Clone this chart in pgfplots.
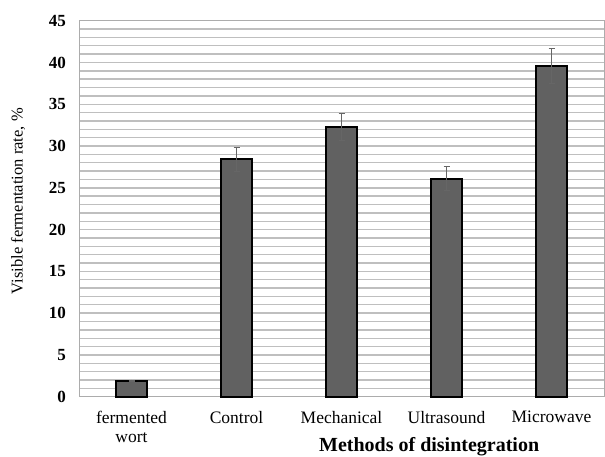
\documentclass[border=0pt]{standalone}
\usepackage{pgfplots}
\pgfplotsset{compat=1.18}
\usepackage{fontspec}
\setmainfont{Liberation Serif}
\begin{document}
\begin{tikzpicture}
\begin{axis}[
  scale only axis, width=525pt, height=376pt,
  xmin=-0.5, xmax=4.5, ymin=0, ymax=45,
  ytick={0,5,...,45}, minor ytick={0,1,...,45},
  ymajorgrids, yminorgrids,
  major grid style={gray!50, line width=1.4pt},
  minor grid style={gray!50, line width=1.4pt},
  axis line style={gray!65, line width=1pt},
  tick style={draw=none},
  xtick={0,1,2,3,4},
  xticklabels={{fermented\\wort},Control,Mechanical,Ultrasound,Microwave},
  xticklabel style={align=center, font=\fontsize{17.5}{19}\selectfont, anchor=north, inner sep=0pt, yshift=-14pt},
  yticklabel style={font=\fontsize{17}{19}\selectfont\bfseries, anchor=east, inner sep=0pt, xshift=-13pt},
  /pgf/number format/assume math mode=true,
  xlabel={Methods of disintegration},
  xlabel style={at={(axis description cs:0.667,0)}, anchor=north, inner sep=0pt, yshift=-41pt, font=\fontsize{20}{22}\selectfont\bfseries},
  ylabel={Visible fermentation rate, \%},
  ylabel style={at={(axis description cs:-0.116,0.52)}, anchor=center, inner sep=0pt, font=\fontsize{16.5}{18}\selectfont},
  clip=false,
]
\addplot[ybar, bar width=31.6pt, fill=black!62, draw=black, line width=2pt,
  error bars/.cd, y dir=both, y explicit,
  error bar style={black!60, line width=0.9pt},
  error mark options={rotate=90, mark size=3pt, black!60, line width=0.9pt}]
  table[x=x, y=y, y error=e] {
x y e
0 1.9 0.1
1 28.4 1.4
2 32.3 1.6
3 26.1 1.4
4 39.6 2.1
};
\end{axis}
\path ([shift={(-79pt,-58.3pt)}]current axis.south west) rectangle ([shift={(1pt,20.7pt)}]current axis.north east);
\end{tikzpicture}
\end{document}
